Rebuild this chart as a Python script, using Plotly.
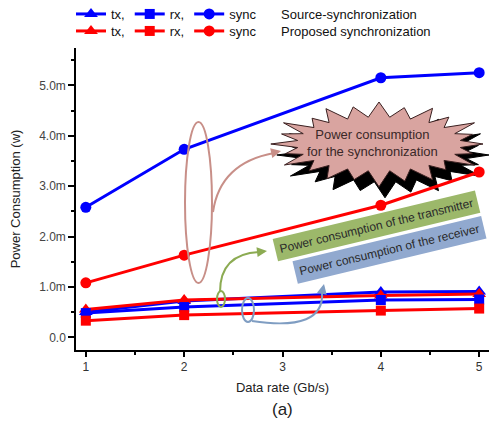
import math
import plotly.graph_objects as go

# ---------------- data ----------------
data_rate = [1, 2, 4, 5]
src_tx = [0.50, 0.72, 0.90, 0.91]
src_rx = [0.48, 0.60, 0.74, 0.75]
src_sync = [2.58, 3.73, 5.15, 5.25]
prop_tx = [0.55, 0.74, 0.83, 0.86]
prop_rx = [0.33, 0.44, 0.53, 0.57]
prop_sync = [1.08, 1.63, 2.62, 3.28]

y_tickvals = [0, 1, 2, 3, 4, 5]
y_ticktext = ["0.0", "1.0m", "2.0m", "3.0m", "4.0m", "5.0m"]
x_tickvals = [1, 2, 3, 4, 5]

BLUE = "#0000ff"
RED = "#ff0000"
FONT = "Liberation Sans, Arial, sans-serif"

W, H = 490, 424
ML, MR, MT, MB = 76, 1, 48, 74
XR = [0.9, 5.1]
YR = [-0.252, 5.74]
PW = W - ML - MR
PH = H - MT - MB


def dx(px):
    return XR[0] + (px - ML) / PW * (XR[1] - XR[0])


def dy(py):
    return YR[0] + (H - MB - py) / PH * (YR[1] - YR[0])


fig = go.Figure()

series = [
    ("tx,", src_tx, BLUE, "triangle-up", "legend", 12),
    ("tx,", prop_tx, RED, "triangle-up", "legend2", 12),
    ("rx,", src_rx, BLUE, "square", "legend", 10),
    ("rx,", prop_rx, RED, "square", "legend2", 10),
    ("sync", src_sync, BLUE, "circle", "legend", 11),
    ("sync", prop_sync, RED, "circle", "legend2", 11),
]
for name, vals, col, sym, leg, ms in series:
    fig.add_trace(go.Scatter(
        x=data_rate, y=vals, name=name, mode="lines+markers",
        line=dict(color=col, width=3),
        marker=dict(symbol=sym, size=ms, color=col),
        legend=leg,
    ))

shapes = []

# starburst
cx, cy = 379, 144
mult = [1.00, 0.93, 1.06, 0.91, 1.03, 0.96, 1.07, 0.92, 1.0, 0.95,
        1.05, 0.93, 1.04, 0.97, 1.06, 0.91, 1.02, 0.96, 1.05, 0.94,
        1.03, 0.95, 1.06, 0.93]
n = len(mult)
pts = []
for i in range(n * 2):
    ang = math.pi * i / n
    if i % 2 == 0:
        m = mult[i // 2]
        rx, ry = 104 * m, 40 * m
    else:
        rx, ry = 82, 27
    pts.append((cx + rx * math.cos(ang), cy + ry * math.sin(ang)))


def path_of(points, ox=0, oy=0):
    s = "M " + " L ".join(f"{dx(p[0] + ox):.4f},{dy(p[1] + oy):.4f}" for p in points)
    return s + " Z"


shapes.append(dict(type="path", path=path_of(pts, 6, 11), xref="x", yref="y",
                   fillcolor="black", line=dict(color="black", width=1), layer="below"))
shapes.append(dict(type="path", path=path_of(pts), xref="x", yref="y",
                   fillcolor="#d9a4a0", line=dict(color="#3a2020", width=1), layer="below"))

# pink ellipse and arrow
PINK = "#c88f88"
shapes.append(dict(type="circle", xref="x", yref="y", x0=dx(185), x1=dx(212),
                   y0=dy(283), y1=dy(122), line=dict(color=PINK, width=2)))
shapes.append(dict(type="path", xref="x", yref="y",
                   path=f"M {dx(213)},{dy(212)} Q {dx(220)},{dy(163)} {dx(274)},{dy(153)}",
                   line=dict(color=PINK, width=2)))

# green loop and arrow
GREEN = "#8cab52"
shapes.append(dict(type="circle", xref="x", yref="y", x0=dx(217), x1=dx(225),
                   y0=dy(307), y1=dy(291), line=dict(color=GREEN, width=2)))
shapes.append(dict(type="path", xref="x", yref="y",
                   path=f"M {dx(220)},{dy(292)} Q {dx(220)},{dy(254)} {dx(259)},{dy(252)}",
                   line=dict(color=GREEN, width=2)))

# blue-gray loop and arrow
BG = "#7f9dc2"
shapes.append(dict(type="circle", xref="x", yref="y", x0=dx(242), x1=dx(254),
                   y0=dy(322), y1=dy(298), line=dict(color=BG, width=2)))
shapes.append(dict(type="path", xref="x", yref="y",
                   path=f"M {dx(252)},{dy(321)} Q {dx(325)},{dy(332)} {dx(322)},{dy(292)}",
                   line=dict(color=BG, width=2)))

annotations = []


def arrowhead(tipx, tipy, ax, ay, col):
    annotations.append(dict(x=dx(tipx), y=dy(tipy), xref="x", yref="y", text="",
                            showarrow=True, ax=ax, ay=ay, arrowhead=2, arrowsize=1,
                            arrowwidth=2, arrowcolor=col))


arrowhead(281, 151, -9, 2, PINK)
arrowhead(267, 251, -9, 1, GREEN)
arrowhead(324, 284, -2, 9, BG)

annotations.append(dict(x=dx(372), y=dy(143), xref="x", yref="y",
                        text="Power consumption<br>for the synchronization",
                        showarrow=False, font=dict(family=FONT, size=13, color="#3a2828")))
annotations.append(dict(x=dx(376), y=dy(226), xref="x", yref="y",
                        text="Power consumption of the transmitter", textangle=-13.5,
                        showarrow=False, bgcolor="#9cb86a", borderpad=4,
                        font=dict(family=FONT, size=12, color="#2a2a2a")))
annotations.append(dict(x=dx(389), y=dy(250), xref="x", yref="y",
                        text="Power consumption of the receiver", textangle=-13.5,
                        showarrow=False, bgcolor="#91a9cf", borderpad=4,
                        font=dict(family=FONT, size=12, color="#2a2a2a")))

annotations.append(dict(x=(279 - ML) / PW, y=(H - MB - 14) / PH, xref="paper", yref="paper",
                        xanchor="left", yanchor="middle", showarrow=False,
                        text="Source-synchronization", font=dict(family=FONT, size=13, color="#111")))
annotations.append(dict(x=(279 - ML) / PW, y=(H - MB - 31) / PH, xref="paper", yref="paper",
                        xanchor="left", yanchor="middle", showarrow=False,
                        text="Proposed synchronization", font=dict(family=FONT, size=13, color="#111")))
annotations.append(dict(x=(282 - ML) / PW, y=(H - MB - 409) / PH, xref="paper", yref="paper",
                        xanchor="center", yanchor="middle", showarrow=False,
                        text="(a)", font=dict(family=FONT, size=17, color="#222")))

legend_common = dict(orientation="h", xanchor="left", yanchor="middle",
                     bgcolor="rgba(0,0,0,0)", font=dict(family=FONT, size=13, color="#111"),
                     itemwidth=30, tracegroupgap=0)

fig.update_layout(
    width=W, height=H,
    margin=dict(l=ML, r=MR, t=MT, b=MB, autoexpand=False),
    paper_bgcolor="white", plot_bgcolor="white",
    font=dict(family=FONT, size=12, color="#333"),
    shapes=shapes, annotations=annotations,
    legend=dict(x=(71 - ML) / PW, y=(H - MB - 14) / PH, **legend_common),
    legend2=dict(x=(71 - ML) / PW, y=(H - MB - 31) / PH, **legend_common),
    xaxis=dict(range=XR, tickvals=x_tickvals, showline=True, linecolor="black",
               linewidth=1.5, ticks="outside", ticklen=5, tickwidth=1.5, tickcolor="black",
               showgrid=False, zeroline=False, automargin=False,
               tickfont=dict(size=12, color="#333"),
               minor=dict(ticks="outside", ticklen=3, tickmode="linear", tick0=1.5, dtick=1,
                          tickcolor="black", tickwidth=1.5),
               title=dict(text="Data rate (Gb/s)", font=dict(size=13, color="#222"), standoff=10)),
    yaxis=dict(range=YR, tickvals=y_tickvals, ticktext=y_ticktext, showline=True,
               linecolor="black", linewidth=1.5, ticks="outside", ticklen=6, tickwidth=1.5,
               tickcolor="black", showgrid=False, zeroline=False, automargin=False,
               tickfont=dict(size=12, color="#444"),
               minor=dict(ticks="outside", ticklen=3, tickmode="linear", tick0=0.5, dtick=1,
                          tickcolor="black", tickwidth=1.5),
               title=dict(text="Power Consumption (w)", font=dict(size=13, color="#222"), standoff=16)),
)

fig.write_html("out.html", config={"displayModeBar": False},
               post_script="document.body.style.margin='0';document.body.style.padding='0';")
